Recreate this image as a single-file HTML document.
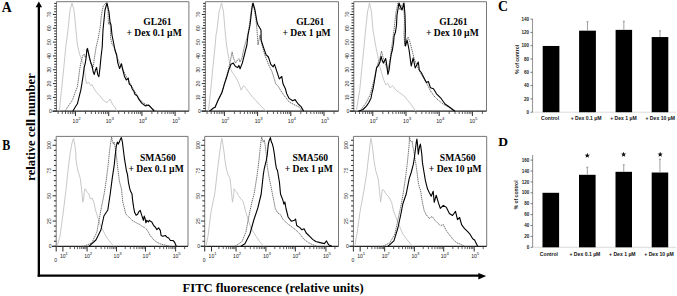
<!DOCTYPE html>
<html><head><meta charset="utf-8"><style>
html,body{margin:0;padding:0;background:#fff;}
body{width:677px;height:296px;overflow:hidden;}
svg{display:block;}
</style></head><body>
<svg width="677" height="296" viewBox="0 0 677 296">
<rect width="677" height="296" fill="#fff"/>
<path d="M56.5,111.2 V1.7 H188.9 V111.2" fill="none" stroke="#777" stroke-width="1"/>
<line x1="52.5" y1="111.2" x2="188.9" y2="111.2" stroke="#222" stroke-width="1.2"/>
<line x1="52.9" y1="111.20" x2="56.5" y2="111.20" stroke="#333" stroke-width="1.05"/>
<text x="50.50" y="113.00" font-family="'Liberation Sans', sans-serif" font-size="5.1" text-anchor="middle" fill="#222">0</text>
<line x1="54.2" y1="108.44" x2="56.5" y2="108.44" stroke="#333" stroke-width="1.05"/>
<line x1="54.2" y1="105.67" x2="56.5" y2="105.67" stroke="#333" stroke-width="1.05"/>
<line x1="54.2" y1="102.91" x2="56.5" y2="102.91" stroke="#333" stroke-width="1.05"/>
<line x1="54.2" y1="100.14" x2="56.5" y2="100.14" stroke="#333" stroke-width="1.05"/>
<line x1="52.9" y1="97.38" x2="56.5" y2="97.38" stroke="#333" stroke-width="1.05"/>
<text x="0" y="0" transform="translate(51.30,97.38) rotate(-90)" font-family="'Liberation Sans', sans-serif" font-size="5.1" text-anchor="middle" fill="#222">10</text>
<line x1="54.2" y1="94.62" x2="56.5" y2="94.62" stroke="#333" stroke-width="1.05"/>
<line x1="54.2" y1="91.85" x2="56.5" y2="91.85" stroke="#333" stroke-width="1.05"/>
<line x1="54.2" y1="89.09" x2="56.5" y2="89.09" stroke="#333" stroke-width="1.05"/>
<line x1="54.2" y1="86.32" x2="56.5" y2="86.32" stroke="#333" stroke-width="1.05"/>
<line x1="52.9" y1="83.56" x2="56.5" y2="83.56" stroke="#333" stroke-width="1.05"/>
<text x="0" y="0" transform="translate(51.30,83.56) rotate(-90)" font-family="'Liberation Sans', sans-serif" font-size="5.1" text-anchor="middle" fill="#222">20</text>
<line x1="54.2" y1="80.80" x2="56.5" y2="80.80" stroke="#333" stroke-width="1.05"/>
<line x1="54.2" y1="78.03" x2="56.5" y2="78.03" stroke="#333" stroke-width="1.05"/>
<line x1="54.2" y1="75.27" x2="56.5" y2="75.27" stroke="#333" stroke-width="1.05"/>
<line x1="54.2" y1="72.50" x2="56.5" y2="72.50" stroke="#333" stroke-width="1.05"/>
<line x1="52.9" y1="69.74" x2="56.5" y2="69.74" stroke="#333" stroke-width="1.05"/>
<text x="0" y="0" transform="translate(51.30,69.74) rotate(-90)" font-family="'Liberation Sans', sans-serif" font-size="5.1" text-anchor="middle" fill="#222">30</text>
<line x1="54.2" y1="66.98" x2="56.5" y2="66.98" stroke="#333" stroke-width="1.05"/>
<line x1="54.2" y1="64.21" x2="56.5" y2="64.21" stroke="#333" stroke-width="1.05"/>
<line x1="54.2" y1="61.45" x2="56.5" y2="61.45" stroke="#333" stroke-width="1.05"/>
<line x1="54.2" y1="58.68" x2="56.5" y2="58.68" stroke="#333" stroke-width="1.05"/>
<line x1="52.9" y1="55.92" x2="56.5" y2="55.92" stroke="#333" stroke-width="1.05"/>
<text x="0" y="0" transform="translate(51.30,55.92) rotate(-90)" font-family="'Liberation Sans', sans-serif" font-size="5.1" text-anchor="middle" fill="#222">40</text>
<line x1="54.2" y1="53.16" x2="56.5" y2="53.16" stroke="#333" stroke-width="1.05"/>
<line x1="54.2" y1="50.39" x2="56.5" y2="50.39" stroke="#333" stroke-width="1.05"/>
<line x1="54.2" y1="47.63" x2="56.5" y2="47.63" stroke="#333" stroke-width="1.05"/>
<line x1="54.2" y1="44.86" x2="56.5" y2="44.86" stroke="#333" stroke-width="1.05"/>
<line x1="52.9" y1="42.10" x2="56.5" y2="42.10" stroke="#333" stroke-width="1.05"/>
<text x="0" y="0" transform="translate(51.30,42.10) rotate(-90)" font-family="'Liberation Sans', sans-serif" font-size="5.1" text-anchor="middle" fill="#222">50</text>
<line x1="54.2" y1="39.34" x2="56.5" y2="39.34" stroke="#333" stroke-width="1.05"/>
<line x1="54.2" y1="36.57" x2="56.5" y2="36.57" stroke="#333" stroke-width="1.05"/>
<line x1="54.2" y1="33.81" x2="56.5" y2="33.81" stroke="#333" stroke-width="1.05"/>
<line x1="54.2" y1="31.04" x2="56.5" y2="31.04" stroke="#333" stroke-width="1.05"/>
<line x1="52.9" y1="28.28" x2="56.5" y2="28.28" stroke="#333" stroke-width="1.05"/>
<text x="0" y="0" transform="translate(51.30,28.28) rotate(-90)" font-family="'Liberation Sans', sans-serif" font-size="5.1" text-anchor="middle" fill="#222">60</text>
<line x1="54.2" y1="25.52" x2="56.5" y2="25.52" stroke="#333" stroke-width="1.05"/>
<line x1="54.2" y1="22.75" x2="56.5" y2="22.75" stroke="#333" stroke-width="1.05"/>
<line x1="54.2" y1="19.99" x2="56.5" y2="19.99" stroke="#333" stroke-width="1.05"/>
<line x1="54.2" y1="17.22" x2="56.5" y2="17.22" stroke="#333" stroke-width="1.05"/>
<line x1="52.9" y1="14.46" x2="56.5" y2="14.46" stroke="#333" stroke-width="1.05"/>
<text x="0" y="0" transform="translate(51.30,14.46) rotate(-90)" font-family="'Liberation Sans', sans-serif" font-size="5.1" text-anchor="middle" fill="#222">70</text>
<line x1="54.2" y1="11.70" x2="56.5" y2="11.70" stroke="#333" stroke-width="1.05"/>
<line x1="54.2" y1="8.93" x2="56.5" y2="8.93" stroke="#333" stroke-width="1.05"/>
<line x1="54.2" y1="6.17" x2="56.5" y2="6.17" stroke="#333" stroke-width="1.05"/>
<line x1="54.2" y1="3.40" x2="56.5" y2="3.40" stroke="#333" stroke-width="1.05"/>
<line x1="58.14" y1="111.2" x2="58.14" y2="114.0" stroke="#333" stroke-width="0.8"/>
<line x1="62.29" y1="111.2" x2="62.29" y2="114.0" stroke="#333" stroke-width="0.8"/>
<line x1="65.51" y1="111.2" x2="65.51" y2="114.0" stroke="#333" stroke-width="0.8"/>
<line x1="68.13" y1="111.2" x2="68.13" y2="114.0" stroke="#333" stroke-width="0.8"/>
<line x1="70.36" y1="111.2" x2="70.36" y2="114.0" stroke="#333" stroke-width="0.8"/>
<line x1="72.28" y1="111.2" x2="72.28" y2="114.0" stroke="#333" stroke-width="0.8"/>
<line x1="73.98" y1="111.2" x2="73.98" y2="114.0" stroke="#333" stroke-width="0.8"/>
<line x1="75.50" y1="111.2" x2="75.50" y2="116.0" stroke="#333" stroke-width="1.05"/>
<text x="75.40" y="122.70" font-family="'Liberation Sans', sans-serif" font-size="5.1" text-anchor="middle" fill="#222">10</text>
<text x="78.20" y="119.70" font-family="'Liberation Sans', sans-serif" font-size="4.3" fill="#222">2</text>
<line x1="85.49" y1="111.2" x2="85.49" y2="114.0" stroke="#333" stroke-width="0.8"/>
<line x1="91.34" y1="111.2" x2="91.34" y2="114.0" stroke="#333" stroke-width="0.8"/>
<line x1="95.49" y1="111.2" x2="95.49" y2="114.0" stroke="#333" stroke-width="0.8"/>
<line x1="98.71" y1="111.2" x2="98.71" y2="114.0" stroke="#333" stroke-width="0.8"/>
<line x1="101.33" y1="111.2" x2="101.33" y2="114.0" stroke="#333" stroke-width="0.8"/>
<line x1="103.56" y1="111.2" x2="103.56" y2="114.0" stroke="#333" stroke-width="0.8"/>
<line x1="105.48" y1="111.2" x2="105.48" y2="114.0" stroke="#333" stroke-width="0.8"/>
<line x1="107.18" y1="111.2" x2="107.18" y2="114.0" stroke="#333" stroke-width="0.8"/>
<line x1="108.70" y1="111.2" x2="108.70" y2="116.0" stroke="#333" stroke-width="1.05"/>
<text x="108.60" y="122.70" font-family="'Liberation Sans', sans-serif" font-size="5.1" text-anchor="middle" fill="#222">10</text>
<text x="111.40" y="119.70" font-family="'Liberation Sans', sans-serif" font-size="4.3" fill="#222">3</text>
<line x1="118.69" y1="111.2" x2="118.69" y2="114.0" stroke="#333" stroke-width="0.8"/>
<line x1="124.54" y1="111.2" x2="124.54" y2="114.0" stroke="#333" stroke-width="0.8"/>
<line x1="128.69" y1="111.2" x2="128.69" y2="114.0" stroke="#333" stroke-width="0.8"/>
<line x1="131.91" y1="111.2" x2="131.91" y2="114.0" stroke="#333" stroke-width="0.8"/>
<line x1="134.53" y1="111.2" x2="134.53" y2="114.0" stroke="#333" stroke-width="0.8"/>
<line x1="136.76" y1="111.2" x2="136.76" y2="114.0" stroke="#333" stroke-width="0.8"/>
<line x1="138.68" y1="111.2" x2="138.68" y2="114.0" stroke="#333" stroke-width="0.8"/>
<line x1="140.38" y1="111.2" x2="140.38" y2="114.0" stroke="#333" stroke-width="0.8"/>
<line x1="141.90" y1="111.2" x2="141.90" y2="116.0" stroke="#333" stroke-width="1.05"/>
<text x="141.80" y="122.70" font-family="'Liberation Sans', sans-serif" font-size="5.1" text-anchor="middle" fill="#222">10</text>
<text x="144.60" y="119.70" font-family="'Liberation Sans', sans-serif" font-size="4.3" fill="#222">4</text>
<line x1="151.89" y1="111.2" x2="151.89" y2="114.0" stroke="#333" stroke-width="0.8"/>
<line x1="157.74" y1="111.2" x2="157.74" y2="114.0" stroke="#333" stroke-width="0.8"/>
<line x1="161.89" y1="111.2" x2="161.89" y2="114.0" stroke="#333" stroke-width="0.8"/>
<line x1="165.11" y1="111.2" x2="165.11" y2="114.0" stroke="#333" stroke-width="0.8"/>
<line x1="167.73" y1="111.2" x2="167.73" y2="114.0" stroke="#333" stroke-width="0.8"/>
<line x1="169.96" y1="111.2" x2="169.96" y2="114.0" stroke="#333" stroke-width="0.8"/>
<line x1="171.88" y1="111.2" x2="171.88" y2="114.0" stroke="#333" stroke-width="0.8"/>
<line x1="173.58" y1="111.2" x2="173.58" y2="114.0" stroke="#333" stroke-width="0.8"/>
<line x1="175.10" y1="111.2" x2="175.10" y2="116.0" stroke="#333" stroke-width="1.05"/>
<text x="175.00" y="122.70" font-family="'Liberation Sans', sans-serif" font-size="5.1" text-anchor="middle" fill="#222">10</text>
<text x="177.80" y="119.70" font-family="'Liberation Sans', sans-serif" font-size="4.3" fill="#222">5</text>
<line x1="185.09" y1="111.2" x2="185.09" y2="114.0" stroke="#333" stroke-width="0.8"/>
<path d="M205.4,111.2 V1.7 H338.5 V111.2" fill="none" stroke="#777" stroke-width="1"/>
<line x1="201.4" y1="111.2" x2="338.5" y2="111.2" stroke="#222" stroke-width="1.2"/>
<line x1="201.8" y1="111.20" x2="205.4" y2="111.20" stroke="#333" stroke-width="1.05"/>
<text x="199.40" y="113.00" font-family="'Liberation Sans', sans-serif" font-size="5.1" text-anchor="middle" fill="#222">0</text>
<line x1="203.1" y1="108.44" x2="205.4" y2="108.44" stroke="#333" stroke-width="1.05"/>
<line x1="203.1" y1="105.67" x2="205.4" y2="105.67" stroke="#333" stroke-width="1.05"/>
<line x1="203.1" y1="102.91" x2="205.4" y2="102.91" stroke="#333" stroke-width="1.05"/>
<line x1="203.1" y1="100.14" x2="205.4" y2="100.14" stroke="#333" stroke-width="1.05"/>
<line x1="201.8" y1="97.38" x2="205.4" y2="97.38" stroke="#333" stroke-width="1.05"/>
<text x="0" y="0" transform="translate(200.20,97.38) rotate(-90)" font-family="'Liberation Sans', sans-serif" font-size="5.1" text-anchor="middle" fill="#222">10</text>
<line x1="203.1" y1="94.62" x2="205.4" y2="94.62" stroke="#333" stroke-width="1.05"/>
<line x1="203.1" y1="91.85" x2="205.4" y2="91.85" stroke="#333" stroke-width="1.05"/>
<line x1="203.1" y1="89.09" x2="205.4" y2="89.09" stroke="#333" stroke-width="1.05"/>
<line x1="203.1" y1="86.32" x2="205.4" y2="86.32" stroke="#333" stroke-width="1.05"/>
<line x1="201.8" y1="83.56" x2="205.4" y2="83.56" stroke="#333" stroke-width="1.05"/>
<text x="0" y="0" transform="translate(200.20,83.56) rotate(-90)" font-family="'Liberation Sans', sans-serif" font-size="5.1" text-anchor="middle" fill="#222">20</text>
<line x1="203.1" y1="80.80" x2="205.4" y2="80.80" stroke="#333" stroke-width="1.05"/>
<line x1="203.1" y1="78.03" x2="205.4" y2="78.03" stroke="#333" stroke-width="1.05"/>
<line x1="203.1" y1="75.27" x2="205.4" y2="75.27" stroke="#333" stroke-width="1.05"/>
<line x1="203.1" y1="72.50" x2="205.4" y2="72.50" stroke="#333" stroke-width="1.05"/>
<line x1="201.8" y1="69.74" x2="205.4" y2="69.74" stroke="#333" stroke-width="1.05"/>
<text x="0" y="0" transform="translate(200.20,69.74) rotate(-90)" font-family="'Liberation Sans', sans-serif" font-size="5.1" text-anchor="middle" fill="#222">30</text>
<line x1="203.1" y1="66.98" x2="205.4" y2="66.98" stroke="#333" stroke-width="1.05"/>
<line x1="203.1" y1="64.21" x2="205.4" y2="64.21" stroke="#333" stroke-width="1.05"/>
<line x1="203.1" y1="61.45" x2="205.4" y2="61.45" stroke="#333" stroke-width="1.05"/>
<line x1="203.1" y1="58.68" x2="205.4" y2="58.68" stroke="#333" stroke-width="1.05"/>
<line x1="201.8" y1="55.92" x2="205.4" y2="55.92" stroke="#333" stroke-width="1.05"/>
<text x="0" y="0" transform="translate(200.20,55.92) rotate(-90)" font-family="'Liberation Sans', sans-serif" font-size="5.1" text-anchor="middle" fill="#222">40</text>
<line x1="203.1" y1="53.16" x2="205.4" y2="53.16" stroke="#333" stroke-width="1.05"/>
<line x1="203.1" y1="50.39" x2="205.4" y2="50.39" stroke="#333" stroke-width="1.05"/>
<line x1="203.1" y1="47.63" x2="205.4" y2="47.63" stroke="#333" stroke-width="1.05"/>
<line x1="203.1" y1="44.86" x2="205.4" y2="44.86" stroke="#333" stroke-width="1.05"/>
<line x1="201.8" y1="42.10" x2="205.4" y2="42.10" stroke="#333" stroke-width="1.05"/>
<text x="0" y="0" transform="translate(200.20,42.10) rotate(-90)" font-family="'Liberation Sans', sans-serif" font-size="5.1" text-anchor="middle" fill="#222">50</text>
<line x1="203.1" y1="39.34" x2="205.4" y2="39.34" stroke="#333" stroke-width="1.05"/>
<line x1="203.1" y1="36.57" x2="205.4" y2="36.57" stroke="#333" stroke-width="1.05"/>
<line x1="203.1" y1="33.81" x2="205.4" y2="33.81" stroke="#333" stroke-width="1.05"/>
<line x1="203.1" y1="31.04" x2="205.4" y2="31.04" stroke="#333" stroke-width="1.05"/>
<line x1="201.8" y1="28.28" x2="205.4" y2="28.28" stroke="#333" stroke-width="1.05"/>
<text x="0" y="0" transform="translate(200.20,28.28) rotate(-90)" font-family="'Liberation Sans', sans-serif" font-size="5.1" text-anchor="middle" fill="#222">60</text>
<line x1="203.1" y1="25.52" x2="205.4" y2="25.52" stroke="#333" stroke-width="1.05"/>
<line x1="203.1" y1="22.75" x2="205.4" y2="22.75" stroke="#333" stroke-width="1.05"/>
<line x1="203.1" y1="19.99" x2="205.4" y2="19.99" stroke="#333" stroke-width="1.05"/>
<line x1="203.1" y1="17.22" x2="205.4" y2="17.22" stroke="#333" stroke-width="1.05"/>
<line x1="201.8" y1="14.46" x2="205.4" y2="14.46" stroke="#333" stroke-width="1.05"/>
<text x="0" y="0" transform="translate(200.20,14.46) rotate(-90)" font-family="'Liberation Sans', sans-serif" font-size="5.1" text-anchor="middle" fill="#222">70</text>
<line x1="203.1" y1="11.70" x2="205.4" y2="11.70" stroke="#333" stroke-width="1.05"/>
<line x1="203.1" y1="8.93" x2="205.4" y2="8.93" stroke="#333" stroke-width="1.05"/>
<line x1="203.1" y1="6.17" x2="205.4" y2="6.17" stroke="#333" stroke-width="1.05"/>
<line x1="203.1" y1="3.40" x2="205.4" y2="3.40" stroke="#333" stroke-width="1.05"/>
<line x1="207.04" y1="111.2" x2="207.04" y2="114.0" stroke="#333" stroke-width="0.8"/>
<line x1="211.19" y1="111.2" x2="211.19" y2="114.0" stroke="#333" stroke-width="0.8"/>
<line x1="214.41" y1="111.2" x2="214.41" y2="114.0" stroke="#333" stroke-width="0.8"/>
<line x1="217.03" y1="111.2" x2="217.03" y2="114.0" stroke="#333" stroke-width="0.8"/>
<line x1="219.26" y1="111.2" x2="219.26" y2="114.0" stroke="#333" stroke-width="0.8"/>
<line x1="221.18" y1="111.2" x2="221.18" y2="114.0" stroke="#333" stroke-width="0.8"/>
<line x1="222.88" y1="111.2" x2="222.88" y2="114.0" stroke="#333" stroke-width="0.8"/>
<line x1="224.40" y1="111.2" x2="224.40" y2="116.0" stroke="#333" stroke-width="1.05"/>
<text x="224.30" y="122.70" font-family="'Liberation Sans', sans-serif" font-size="5.1" text-anchor="middle" fill="#222">10</text>
<text x="227.10" y="119.70" font-family="'Liberation Sans', sans-serif" font-size="4.3" fill="#222">2</text>
<line x1="234.39" y1="111.2" x2="234.39" y2="114.0" stroke="#333" stroke-width="0.8"/>
<line x1="240.24" y1="111.2" x2="240.24" y2="114.0" stroke="#333" stroke-width="0.8"/>
<line x1="244.39" y1="111.2" x2="244.39" y2="114.0" stroke="#333" stroke-width="0.8"/>
<line x1="247.61" y1="111.2" x2="247.61" y2="114.0" stroke="#333" stroke-width="0.8"/>
<line x1="250.23" y1="111.2" x2="250.23" y2="114.0" stroke="#333" stroke-width="0.8"/>
<line x1="252.46" y1="111.2" x2="252.46" y2="114.0" stroke="#333" stroke-width="0.8"/>
<line x1="254.38" y1="111.2" x2="254.38" y2="114.0" stroke="#333" stroke-width="0.8"/>
<line x1="256.08" y1="111.2" x2="256.08" y2="114.0" stroke="#333" stroke-width="0.8"/>
<line x1="257.60" y1="111.2" x2="257.60" y2="116.0" stroke="#333" stroke-width="1.05"/>
<text x="257.50" y="122.70" font-family="'Liberation Sans', sans-serif" font-size="5.1" text-anchor="middle" fill="#222">10</text>
<text x="260.30" y="119.70" font-family="'Liberation Sans', sans-serif" font-size="4.3" fill="#222">3</text>
<line x1="267.59" y1="111.2" x2="267.59" y2="114.0" stroke="#333" stroke-width="0.8"/>
<line x1="273.44" y1="111.2" x2="273.44" y2="114.0" stroke="#333" stroke-width="0.8"/>
<line x1="277.59" y1="111.2" x2="277.59" y2="114.0" stroke="#333" stroke-width="0.8"/>
<line x1="280.81" y1="111.2" x2="280.81" y2="114.0" stroke="#333" stroke-width="0.8"/>
<line x1="283.43" y1="111.2" x2="283.43" y2="114.0" stroke="#333" stroke-width="0.8"/>
<line x1="285.66" y1="111.2" x2="285.66" y2="114.0" stroke="#333" stroke-width="0.8"/>
<line x1="287.58" y1="111.2" x2="287.58" y2="114.0" stroke="#333" stroke-width="0.8"/>
<line x1="289.28" y1="111.2" x2="289.28" y2="114.0" stroke="#333" stroke-width="0.8"/>
<line x1="290.80" y1="111.2" x2="290.80" y2="116.0" stroke="#333" stroke-width="1.05"/>
<text x="290.70" y="122.70" font-family="'Liberation Sans', sans-serif" font-size="5.1" text-anchor="middle" fill="#222">10</text>
<text x="293.50" y="119.70" font-family="'Liberation Sans', sans-serif" font-size="4.3" fill="#222">4</text>
<line x1="300.79" y1="111.2" x2="300.79" y2="114.0" stroke="#333" stroke-width="0.8"/>
<line x1="306.64" y1="111.2" x2="306.64" y2="114.0" stroke="#333" stroke-width="0.8"/>
<line x1="310.79" y1="111.2" x2="310.79" y2="114.0" stroke="#333" stroke-width="0.8"/>
<line x1="314.01" y1="111.2" x2="314.01" y2="114.0" stroke="#333" stroke-width="0.8"/>
<line x1="316.63" y1="111.2" x2="316.63" y2="114.0" stroke="#333" stroke-width="0.8"/>
<line x1="318.86" y1="111.2" x2="318.86" y2="114.0" stroke="#333" stroke-width="0.8"/>
<line x1="320.78" y1="111.2" x2="320.78" y2="114.0" stroke="#333" stroke-width="0.8"/>
<line x1="322.48" y1="111.2" x2="322.48" y2="114.0" stroke="#333" stroke-width="0.8"/>
<line x1="324.00" y1="111.2" x2="324.00" y2="116.0" stroke="#333" stroke-width="1.05"/>
<text x="323.90" y="122.70" font-family="'Liberation Sans', sans-serif" font-size="5.1" text-anchor="middle" fill="#222">10</text>
<text x="326.70" y="119.70" font-family="'Liberation Sans', sans-serif" font-size="4.3" fill="#222">5</text>
<line x1="333.99" y1="111.2" x2="333.99" y2="114.0" stroke="#333" stroke-width="0.8"/>
<path d="M353.8,111.2 V1.7 H486.5 V111.2" fill="none" stroke="#777" stroke-width="1"/>
<line x1="349.8" y1="111.2" x2="486.5" y2="111.2" stroke="#222" stroke-width="1.2"/>
<line x1="350.2" y1="111.20" x2="353.8" y2="111.20" stroke="#333" stroke-width="1.05"/>
<text x="347.80" y="113.00" font-family="'Liberation Sans', sans-serif" font-size="5.1" text-anchor="middle" fill="#222">0</text>
<line x1="351.5" y1="108.44" x2="353.8" y2="108.44" stroke="#333" stroke-width="1.05"/>
<line x1="351.5" y1="105.67" x2="353.8" y2="105.67" stroke="#333" stroke-width="1.05"/>
<line x1="351.5" y1="102.91" x2="353.8" y2="102.91" stroke="#333" stroke-width="1.05"/>
<line x1="351.5" y1="100.14" x2="353.8" y2="100.14" stroke="#333" stroke-width="1.05"/>
<line x1="350.2" y1="97.38" x2="353.8" y2="97.38" stroke="#333" stroke-width="1.05"/>
<text x="0" y="0" transform="translate(348.60,97.38) rotate(-90)" font-family="'Liberation Sans', sans-serif" font-size="5.1" text-anchor="middle" fill="#222">10</text>
<line x1="351.5" y1="94.62" x2="353.8" y2="94.62" stroke="#333" stroke-width="1.05"/>
<line x1="351.5" y1="91.85" x2="353.8" y2="91.85" stroke="#333" stroke-width="1.05"/>
<line x1="351.5" y1="89.09" x2="353.8" y2="89.09" stroke="#333" stroke-width="1.05"/>
<line x1="351.5" y1="86.32" x2="353.8" y2="86.32" stroke="#333" stroke-width="1.05"/>
<line x1="350.2" y1="83.56" x2="353.8" y2="83.56" stroke="#333" stroke-width="1.05"/>
<text x="0" y="0" transform="translate(348.60,83.56) rotate(-90)" font-family="'Liberation Sans', sans-serif" font-size="5.1" text-anchor="middle" fill="#222">20</text>
<line x1="351.5" y1="80.80" x2="353.8" y2="80.80" stroke="#333" stroke-width="1.05"/>
<line x1="351.5" y1="78.03" x2="353.8" y2="78.03" stroke="#333" stroke-width="1.05"/>
<line x1="351.5" y1="75.27" x2="353.8" y2="75.27" stroke="#333" stroke-width="1.05"/>
<line x1="351.5" y1="72.50" x2="353.8" y2="72.50" stroke="#333" stroke-width="1.05"/>
<line x1="350.2" y1="69.74" x2="353.8" y2="69.74" stroke="#333" stroke-width="1.05"/>
<text x="0" y="0" transform="translate(348.60,69.74) rotate(-90)" font-family="'Liberation Sans', sans-serif" font-size="5.1" text-anchor="middle" fill="#222">30</text>
<line x1="351.5" y1="66.98" x2="353.8" y2="66.98" stroke="#333" stroke-width="1.05"/>
<line x1="351.5" y1="64.21" x2="353.8" y2="64.21" stroke="#333" stroke-width="1.05"/>
<line x1="351.5" y1="61.45" x2="353.8" y2="61.45" stroke="#333" stroke-width="1.05"/>
<line x1="351.5" y1="58.68" x2="353.8" y2="58.68" stroke="#333" stroke-width="1.05"/>
<line x1="350.2" y1="55.92" x2="353.8" y2="55.92" stroke="#333" stroke-width="1.05"/>
<text x="0" y="0" transform="translate(348.60,55.92) rotate(-90)" font-family="'Liberation Sans', sans-serif" font-size="5.1" text-anchor="middle" fill="#222">40</text>
<line x1="351.5" y1="53.16" x2="353.8" y2="53.16" stroke="#333" stroke-width="1.05"/>
<line x1="351.5" y1="50.39" x2="353.8" y2="50.39" stroke="#333" stroke-width="1.05"/>
<line x1="351.5" y1="47.63" x2="353.8" y2="47.63" stroke="#333" stroke-width="1.05"/>
<line x1="351.5" y1="44.86" x2="353.8" y2="44.86" stroke="#333" stroke-width="1.05"/>
<line x1="350.2" y1="42.10" x2="353.8" y2="42.10" stroke="#333" stroke-width="1.05"/>
<text x="0" y="0" transform="translate(348.60,42.10) rotate(-90)" font-family="'Liberation Sans', sans-serif" font-size="5.1" text-anchor="middle" fill="#222">50</text>
<line x1="351.5" y1="39.34" x2="353.8" y2="39.34" stroke="#333" stroke-width="1.05"/>
<line x1="351.5" y1="36.57" x2="353.8" y2="36.57" stroke="#333" stroke-width="1.05"/>
<line x1="351.5" y1="33.81" x2="353.8" y2="33.81" stroke="#333" stroke-width="1.05"/>
<line x1="351.5" y1="31.04" x2="353.8" y2="31.04" stroke="#333" stroke-width="1.05"/>
<line x1="350.2" y1="28.28" x2="353.8" y2="28.28" stroke="#333" stroke-width="1.05"/>
<text x="0" y="0" transform="translate(348.60,28.28) rotate(-90)" font-family="'Liberation Sans', sans-serif" font-size="5.1" text-anchor="middle" fill="#222">60</text>
<line x1="351.5" y1="25.52" x2="353.8" y2="25.52" stroke="#333" stroke-width="1.05"/>
<line x1="351.5" y1="22.75" x2="353.8" y2="22.75" stroke="#333" stroke-width="1.05"/>
<line x1="351.5" y1="19.99" x2="353.8" y2="19.99" stroke="#333" stroke-width="1.05"/>
<line x1="351.5" y1="17.22" x2="353.8" y2="17.22" stroke="#333" stroke-width="1.05"/>
<line x1="350.2" y1="14.46" x2="353.8" y2="14.46" stroke="#333" stroke-width="1.05"/>
<text x="0" y="0" transform="translate(348.60,14.46) rotate(-90)" font-family="'Liberation Sans', sans-serif" font-size="5.1" text-anchor="middle" fill="#222">70</text>
<line x1="351.5" y1="11.70" x2="353.8" y2="11.70" stroke="#333" stroke-width="1.05"/>
<line x1="351.5" y1="8.93" x2="353.8" y2="8.93" stroke="#333" stroke-width="1.05"/>
<line x1="351.5" y1="6.17" x2="353.8" y2="6.17" stroke="#333" stroke-width="1.05"/>
<line x1="351.5" y1="3.40" x2="353.8" y2="3.40" stroke="#333" stroke-width="1.05"/>
<line x1="355.44" y1="111.2" x2="355.44" y2="114.0" stroke="#333" stroke-width="0.8"/>
<line x1="359.59" y1="111.2" x2="359.59" y2="114.0" stroke="#333" stroke-width="0.8"/>
<line x1="362.81" y1="111.2" x2="362.81" y2="114.0" stroke="#333" stroke-width="0.8"/>
<line x1="365.43" y1="111.2" x2="365.43" y2="114.0" stroke="#333" stroke-width="0.8"/>
<line x1="367.66" y1="111.2" x2="367.66" y2="114.0" stroke="#333" stroke-width="0.8"/>
<line x1="369.58" y1="111.2" x2="369.58" y2="114.0" stroke="#333" stroke-width="0.8"/>
<line x1="371.28" y1="111.2" x2="371.28" y2="114.0" stroke="#333" stroke-width="0.8"/>
<line x1="372.80" y1="111.2" x2="372.80" y2="116.0" stroke="#333" stroke-width="1.05"/>
<text x="372.70" y="122.70" font-family="'Liberation Sans', sans-serif" font-size="5.1" text-anchor="middle" fill="#222">10</text>
<text x="375.50" y="119.70" font-family="'Liberation Sans', sans-serif" font-size="4.3" fill="#222">2</text>
<line x1="382.79" y1="111.2" x2="382.79" y2="114.0" stroke="#333" stroke-width="0.8"/>
<line x1="388.64" y1="111.2" x2="388.64" y2="114.0" stroke="#333" stroke-width="0.8"/>
<line x1="392.79" y1="111.2" x2="392.79" y2="114.0" stroke="#333" stroke-width="0.8"/>
<line x1="396.01" y1="111.2" x2="396.01" y2="114.0" stroke="#333" stroke-width="0.8"/>
<line x1="398.63" y1="111.2" x2="398.63" y2="114.0" stroke="#333" stroke-width="0.8"/>
<line x1="400.86" y1="111.2" x2="400.86" y2="114.0" stroke="#333" stroke-width="0.8"/>
<line x1="402.78" y1="111.2" x2="402.78" y2="114.0" stroke="#333" stroke-width="0.8"/>
<line x1="404.48" y1="111.2" x2="404.48" y2="114.0" stroke="#333" stroke-width="0.8"/>
<line x1="406.00" y1="111.2" x2="406.00" y2="116.0" stroke="#333" stroke-width="1.05"/>
<text x="405.90" y="122.70" font-family="'Liberation Sans', sans-serif" font-size="5.1" text-anchor="middle" fill="#222">10</text>
<text x="408.70" y="119.70" font-family="'Liberation Sans', sans-serif" font-size="4.3" fill="#222">3</text>
<line x1="415.99" y1="111.2" x2="415.99" y2="114.0" stroke="#333" stroke-width="0.8"/>
<line x1="421.84" y1="111.2" x2="421.84" y2="114.0" stroke="#333" stroke-width="0.8"/>
<line x1="425.99" y1="111.2" x2="425.99" y2="114.0" stroke="#333" stroke-width="0.8"/>
<line x1="429.21" y1="111.2" x2="429.21" y2="114.0" stroke="#333" stroke-width="0.8"/>
<line x1="431.83" y1="111.2" x2="431.83" y2="114.0" stroke="#333" stroke-width="0.8"/>
<line x1="434.06" y1="111.2" x2="434.06" y2="114.0" stroke="#333" stroke-width="0.8"/>
<line x1="435.98" y1="111.2" x2="435.98" y2="114.0" stroke="#333" stroke-width="0.8"/>
<line x1="437.68" y1="111.2" x2="437.68" y2="114.0" stroke="#333" stroke-width="0.8"/>
<line x1="439.20" y1="111.2" x2="439.20" y2="116.0" stroke="#333" stroke-width="1.05"/>
<text x="439.10" y="122.70" font-family="'Liberation Sans', sans-serif" font-size="5.1" text-anchor="middle" fill="#222">10</text>
<text x="441.90" y="119.70" font-family="'Liberation Sans', sans-serif" font-size="4.3" fill="#222">4</text>
<line x1="449.19" y1="111.2" x2="449.19" y2="114.0" stroke="#333" stroke-width="0.8"/>
<line x1="455.04" y1="111.2" x2="455.04" y2="114.0" stroke="#333" stroke-width="0.8"/>
<line x1="459.19" y1="111.2" x2="459.19" y2="114.0" stroke="#333" stroke-width="0.8"/>
<line x1="462.41" y1="111.2" x2="462.41" y2="114.0" stroke="#333" stroke-width="0.8"/>
<line x1="465.03" y1="111.2" x2="465.03" y2="114.0" stroke="#333" stroke-width="0.8"/>
<line x1="467.26" y1="111.2" x2="467.26" y2="114.0" stroke="#333" stroke-width="0.8"/>
<line x1="469.18" y1="111.2" x2="469.18" y2="114.0" stroke="#333" stroke-width="0.8"/>
<line x1="470.88" y1="111.2" x2="470.88" y2="114.0" stroke="#333" stroke-width="0.8"/>
<line x1="472.40" y1="111.2" x2="472.40" y2="116.0" stroke="#333" stroke-width="1.05"/>
<text x="472.30" y="122.70" font-family="'Liberation Sans', sans-serif" font-size="5.1" text-anchor="middle" fill="#222">10</text>
<text x="475.10" y="119.70" font-family="'Liberation Sans', sans-serif" font-size="4.3" fill="#222">5</text>
<line x1="482.39" y1="111.2" x2="482.39" y2="114.0" stroke="#333" stroke-width="0.8"/>
<path d="M56.2,246.3 V136.4 H188.0 V246.3" fill="none" stroke="#777" stroke-width="1"/>
<line x1="52.2" y1="246.3" x2="188.0" y2="246.3" stroke="#222" stroke-width="1.2"/>
<line x1="52.6" y1="246.30" x2="56.2" y2="246.30" stroke="#333" stroke-width="1.05"/>
<text x="50.20" y="248.10" font-family="'Liberation Sans', sans-serif" font-size="5.1" text-anchor="middle" fill="#222">0</text>
<line x1="53.900000000000006" y1="241.25" x2="56.2" y2="241.25" stroke="#333" stroke-width="1.05"/>
<line x1="53.900000000000006" y1="236.20" x2="56.2" y2="236.20" stroke="#333" stroke-width="1.05"/>
<line x1="53.900000000000006" y1="231.15" x2="56.2" y2="231.15" stroke="#333" stroke-width="1.05"/>
<line x1="53.900000000000006" y1="226.10" x2="56.2" y2="226.10" stroke="#333" stroke-width="1.05"/>
<line x1="52.6" y1="221.05" x2="56.2" y2="221.05" stroke="#333" stroke-width="1.05"/>
<text x="0" y="0" transform="translate(51.00,221.05) rotate(-90)" font-family="'Liberation Sans', sans-serif" font-size="5.1" text-anchor="middle" fill="#222">25</text>
<line x1="53.900000000000006" y1="216.00" x2="56.2" y2="216.00" stroke="#333" stroke-width="1.05"/>
<line x1="53.900000000000006" y1="210.95" x2="56.2" y2="210.95" stroke="#333" stroke-width="1.05"/>
<line x1="53.900000000000006" y1="205.90" x2="56.2" y2="205.90" stroke="#333" stroke-width="1.05"/>
<line x1="53.900000000000006" y1="200.85" x2="56.2" y2="200.85" stroke="#333" stroke-width="1.05"/>
<line x1="52.6" y1="195.80" x2="56.2" y2="195.80" stroke="#333" stroke-width="1.05"/>
<text x="0" y="0" transform="translate(51.00,195.80) rotate(-90)" font-family="'Liberation Sans', sans-serif" font-size="5.1" text-anchor="middle" fill="#222">50</text>
<line x1="53.900000000000006" y1="190.75" x2="56.2" y2="190.75" stroke="#333" stroke-width="1.05"/>
<line x1="53.900000000000006" y1="185.70" x2="56.2" y2="185.70" stroke="#333" stroke-width="1.05"/>
<line x1="53.900000000000006" y1="180.65" x2="56.2" y2="180.65" stroke="#333" stroke-width="1.05"/>
<line x1="53.900000000000006" y1="175.60" x2="56.2" y2="175.60" stroke="#333" stroke-width="1.05"/>
<line x1="52.6" y1="170.55" x2="56.2" y2="170.55" stroke="#333" stroke-width="1.05"/>
<text x="0" y="0" transform="translate(51.00,170.55) rotate(-90)" font-family="'Liberation Sans', sans-serif" font-size="5.1" text-anchor="middle" fill="#222">75</text>
<line x1="53.900000000000006" y1="165.50" x2="56.2" y2="165.50" stroke="#333" stroke-width="1.05"/>
<line x1="53.900000000000006" y1="160.45" x2="56.2" y2="160.45" stroke="#333" stroke-width="1.05"/>
<line x1="53.900000000000006" y1="155.40" x2="56.2" y2="155.40" stroke="#333" stroke-width="1.05"/>
<line x1="53.900000000000006" y1="150.35" x2="56.2" y2="150.35" stroke="#333" stroke-width="1.05"/>
<line x1="52.6" y1="145.30" x2="56.2" y2="145.30" stroke="#333" stroke-width="1.05"/>
<text x="0" y="0" transform="translate(51.00,145.30) rotate(-90)" font-family="'Liberation Sans', sans-serif" font-size="5.1" text-anchor="middle" fill="#222">100</text>
<line x1="53.900000000000006" y1="140.25" x2="56.2" y2="140.25" stroke="#333" stroke-width="1.05"/>
<line x1="56.20" y1="246.3" x2="56.20" y2="251.5" stroke="#333" stroke-width="1.05"/>
<text x="55.60" y="261.50" font-family="'Liberation Sans', sans-serif" font-size="5.1" text-anchor="middle" fill="#222">0</text>
<line x1="62.90" y1="246.3" x2="62.90" y2="251.5" stroke="#333" stroke-width="1.05"/>
<text x="62.80" y="257.80" font-family="'Liberation Sans', sans-serif" font-size="5.1" text-anchor="middle" fill="#222">10</text>
<text x="65.60" y="254.80" font-family="'Liberation Sans', sans-serif" font-size="4.3" fill="#222">1</text>
<line x1="70.18" y1="246.3" x2="70.18" y2="249.10000000000002" stroke="#333" stroke-width="0.8"/>
<line x1="74.44" y1="246.3" x2="74.44" y2="249.10000000000002" stroke="#333" stroke-width="0.8"/>
<line x1="77.46" y1="246.3" x2="77.46" y2="249.10000000000002" stroke="#333" stroke-width="0.8"/>
<line x1="79.81" y1="246.3" x2="79.81" y2="249.10000000000002" stroke="#333" stroke-width="0.8"/>
<line x1="81.73" y1="246.3" x2="81.73" y2="249.10000000000002" stroke="#333" stroke-width="0.8"/>
<line x1="83.35" y1="246.3" x2="83.35" y2="249.10000000000002" stroke="#333" stroke-width="0.8"/>
<line x1="84.75" y1="246.3" x2="84.75" y2="249.10000000000002" stroke="#333" stroke-width="0.8"/>
<line x1="85.99" y1="246.3" x2="85.99" y2="249.10000000000002" stroke="#333" stroke-width="0.8"/>
<line x1="87.09" y1="246.3" x2="87.09" y2="251.5" stroke="#333" stroke-width="1.05"/>
<text x="86.99" y="257.80" font-family="'Liberation Sans', sans-serif" font-size="5.1" text-anchor="middle" fill="#222">10</text>
<text x="89.79" y="254.80" font-family="'Liberation Sans', sans-serif" font-size="4.3" fill="#222">2</text>
<line x1="95.95" y1="246.3" x2="95.95" y2="249.10000000000002" stroke="#333" stroke-width="0.8"/>
<line x1="101.12" y1="246.3" x2="101.12" y2="249.10000000000002" stroke="#333" stroke-width="0.8"/>
<line x1="104.80" y1="246.3" x2="104.80" y2="249.10000000000002" stroke="#333" stroke-width="0.8"/>
<line x1="107.65" y1="246.3" x2="107.65" y2="249.10000000000002" stroke="#333" stroke-width="0.8"/>
<line x1="109.98" y1="246.3" x2="109.98" y2="249.10000000000002" stroke="#333" stroke-width="0.8"/>
<line x1="111.94" y1="246.3" x2="111.94" y2="249.10000000000002" stroke="#333" stroke-width="0.8"/>
<line x1="113.65" y1="246.3" x2="113.65" y2="249.10000000000002" stroke="#333" stroke-width="0.8"/>
<line x1="115.15" y1="246.3" x2="115.15" y2="249.10000000000002" stroke="#333" stroke-width="0.8"/>
<line x1="116.50" y1="246.3" x2="116.50" y2="251.5" stroke="#333" stroke-width="1.05"/>
<text x="116.40" y="257.80" font-family="'Liberation Sans', sans-serif" font-size="5.1" text-anchor="middle" fill="#222">10</text>
<text x="119.20" y="254.80" font-family="'Liberation Sans', sans-serif" font-size="4.3" fill="#222">3</text>
<line x1="125.23" y1="246.3" x2="125.23" y2="249.10000000000002" stroke="#333" stroke-width="0.8"/>
<line x1="130.33" y1="246.3" x2="130.33" y2="249.10000000000002" stroke="#333" stroke-width="0.8"/>
<line x1="133.96" y1="246.3" x2="133.96" y2="249.10000000000002" stroke="#333" stroke-width="0.8"/>
<line x1="136.77" y1="246.3" x2="136.77" y2="249.10000000000002" stroke="#333" stroke-width="0.8"/>
<line x1="139.06" y1="246.3" x2="139.06" y2="249.10000000000002" stroke="#333" stroke-width="0.8"/>
<line x1="141.00" y1="246.3" x2="141.00" y2="249.10000000000002" stroke="#333" stroke-width="0.8"/>
<line x1="142.68" y1="246.3" x2="142.68" y2="249.10000000000002" stroke="#333" stroke-width="0.8"/>
<line x1="144.17" y1="246.3" x2="144.17" y2="249.10000000000002" stroke="#333" stroke-width="0.8"/>
<line x1="145.49" y1="246.3" x2="145.49" y2="251.5" stroke="#333" stroke-width="1.05"/>
<text x="145.39" y="257.80" font-family="'Liberation Sans', sans-serif" font-size="5.1" text-anchor="middle" fill="#222">10</text>
<text x="148.19" y="254.80" font-family="'Liberation Sans', sans-serif" font-size="4.3" fill="#222">4</text>
<line x1="154.56" y1="246.3" x2="154.56" y2="249.10000000000002" stroke="#333" stroke-width="0.8"/>
<line x1="159.86" y1="246.3" x2="159.86" y2="249.10000000000002" stroke="#333" stroke-width="0.8"/>
<line x1="163.63" y1="246.3" x2="163.63" y2="249.10000000000002" stroke="#333" stroke-width="0.8"/>
<line x1="166.54" y1="246.3" x2="166.54" y2="249.10000000000002" stroke="#333" stroke-width="0.8"/>
<line x1="168.93" y1="246.3" x2="168.93" y2="249.10000000000002" stroke="#333" stroke-width="0.8"/>
<line x1="170.95" y1="246.3" x2="170.95" y2="249.10000000000002" stroke="#333" stroke-width="0.8"/>
<line x1="172.69" y1="246.3" x2="172.69" y2="249.10000000000002" stroke="#333" stroke-width="0.8"/>
<line x1="174.23" y1="246.3" x2="174.23" y2="249.10000000000002" stroke="#333" stroke-width="0.8"/>
<line x1="175.61" y1="246.3" x2="175.61" y2="251.5" stroke="#333" stroke-width="1.05"/>
<text x="175.51" y="257.80" font-family="'Liberation Sans', sans-serif" font-size="5.1" text-anchor="middle" fill="#222">10</text>
<text x="178.31" y="254.80" font-family="'Liberation Sans', sans-serif" font-size="4.3" fill="#222">5</text>
<line x1="184.64" y1="246.3" x2="184.64" y2="249.10000000000002" stroke="#333" stroke-width="0.8"/>
<path d="M204.7,246.3 V136.4 H338.5 V246.3" fill="none" stroke="#777" stroke-width="1"/>
<line x1="200.7" y1="246.3" x2="338.5" y2="246.3" stroke="#222" stroke-width="1.2"/>
<line x1="201.1" y1="246.30" x2="204.7" y2="246.30" stroke="#333" stroke-width="1.05"/>
<text x="198.70" y="248.10" font-family="'Liberation Sans', sans-serif" font-size="5.1" text-anchor="middle" fill="#222">0</text>
<line x1="202.39999999999998" y1="241.25" x2="204.7" y2="241.25" stroke="#333" stroke-width="1.05"/>
<line x1="202.39999999999998" y1="236.20" x2="204.7" y2="236.20" stroke="#333" stroke-width="1.05"/>
<line x1="202.39999999999998" y1="231.15" x2="204.7" y2="231.15" stroke="#333" stroke-width="1.05"/>
<line x1="202.39999999999998" y1="226.10" x2="204.7" y2="226.10" stroke="#333" stroke-width="1.05"/>
<line x1="201.1" y1="221.05" x2="204.7" y2="221.05" stroke="#333" stroke-width="1.05"/>
<text x="0" y="0" transform="translate(199.50,221.05) rotate(-90)" font-family="'Liberation Sans', sans-serif" font-size="5.1" text-anchor="middle" fill="#222">25</text>
<line x1="202.39999999999998" y1="216.00" x2="204.7" y2="216.00" stroke="#333" stroke-width="1.05"/>
<line x1="202.39999999999998" y1="210.95" x2="204.7" y2="210.95" stroke="#333" stroke-width="1.05"/>
<line x1="202.39999999999998" y1="205.90" x2="204.7" y2="205.90" stroke="#333" stroke-width="1.05"/>
<line x1="202.39999999999998" y1="200.85" x2="204.7" y2="200.85" stroke="#333" stroke-width="1.05"/>
<line x1="201.1" y1="195.80" x2="204.7" y2="195.80" stroke="#333" stroke-width="1.05"/>
<text x="0" y="0" transform="translate(199.50,195.80) rotate(-90)" font-family="'Liberation Sans', sans-serif" font-size="5.1" text-anchor="middle" fill="#222">50</text>
<line x1="202.39999999999998" y1="190.75" x2="204.7" y2="190.75" stroke="#333" stroke-width="1.05"/>
<line x1="202.39999999999998" y1="185.70" x2="204.7" y2="185.70" stroke="#333" stroke-width="1.05"/>
<line x1="202.39999999999998" y1="180.65" x2="204.7" y2="180.65" stroke="#333" stroke-width="1.05"/>
<line x1="202.39999999999998" y1="175.60" x2="204.7" y2="175.60" stroke="#333" stroke-width="1.05"/>
<line x1="201.1" y1="170.55" x2="204.7" y2="170.55" stroke="#333" stroke-width="1.05"/>
<text x="0" y="0" transform="translate(199.50,170.55) rotate(-90)" font-family="'Liberation Sans', sans-serif" font-size="5.1" text-anchor="middle" fill="#222">75</text>
<line x1="202.39999999999998" y1="165.50" x2="204.7" y2="165.50" stroke="#333" stroke-width="1.05"/>
<line x1="202.39999999999998" y1="160.45" x2="204.7" y2="160.45" stroke="#333" stroke-width="1.05"/>
<line x1="202.39999999999998" y1="155.40" x2="204.7" y2="155.40" stroke="#333" stroke-width="1.05"/>
<line x1="202.39999999999998" y1="150.35" x2="204.7" y2="150.35" stroke="#333" stroke-width="1.05"/>
<line x1="201.1" y1="145.30" x2="204.7" y2="145.30" stroke="#333" stroke-width="1.05"/>
<text x="0" y="0" transform="translate(199.50,145.30) rotate(-90)" font-family="'Liberation Sans', sans-serif" font-size="5.1" text-anchor="middle" fill="#222">100</text>
<line x1="202.39999999999998" y1="140.25" x2="204.7" y2="140.25" stroke="#333" stroke-width="1.05"/>
<line x1="204.70" y1="246.3" x2="204.70" y2="251.5" stroke="#333" stroke-width="1.05"/>
<text x="204.10" y="261.50" font-family="'Liberation Sans', sans-serif" font-size="5.1" text-anchor="middle" fill="#222">0</text>
<line x1="211.50" y1="246.3" x2="211.50" y2="251.5" stroke="#333" stroke-width="1.05"/>
<text x="211.40" y="257.80" font-family="'Liberation Sans', sans-serif" font-size="5.1" text-anchor="middle" fill="#222">10</text>
<text x="214.20" y="254.80" font-family="'Liberation Sans', sans-serif" font-size="4.3" fill="#222">1</text>
<line x1="218.89" y1="246.3" x2="218.89" y2="249.10000000000002" stroke="#333" stroke-width="0.8"/>
<line x1="223.22" y1="246.3" x2="223.22" y2="249.10000000000002" stroke="#333" stroke-width="0.8"/>
<line x1="226.29" y1="246.3" x2="226.29" y2="249.10000000000002" stroke="#333" stroke-width="0.8"/>
<line x1="228.67" y1="246.3" x2="228.67" y2="249.10000000000002" stroke="#333" stroke-width="0.8"/>
<line x1="230.61" y1="246.3" x2="230.61" y2="249.10000000000002" stroke="#333" stroke-width="0.8"/>
<line x1="232.26" y1="246.3" x2="232.26" y2="249.10000000000002" stroke="#333" stroke-width="0.8"/>
<line x1="233.68" y1="246.3" x2="233.68" y2="249.10000000000002" stroke="#333" stroke-width="0.8"/>
<line x1="234.94" y1="246.3" x2="234.94" y2="249.10000000000002" stroke="#333" stroke-width="0.8"/>
<line x1="236.06" y1="246.3" x2="236.06" y2="251.5" stroke="#333" stroke-width="1.05"/>
<text x="235.96" y="257.80" font-family="'Liberation Sans', sans-serif" font-size="5.1" text-anchor="middle" fill="#222">10</text>
<text x="238.76" y="254.80" font-family="'Liberation Sans', sans-serif" font-size="4.3" fill="#222">2</text>
<line x1="245.05" y1="246.3" x2="245.05" y2="249.10000000000002" stroke="#333" stroke-width="0.8"/>
<line x1="250.31" y1="246.3" x2="250.31" y2="249.10000000000002" stroke="#333" stroke-width="0.8"/>
<line x1="254.03" y1="246.3" x2="254.03" y2="249.10000000000002" stroke="#333" stroke-width="0.8"/>
<line x1="256.93" y1="246.3" x2="256.93" y2="249.10000000000002" stroke="#333" stroke-width="0.8"/>
<line x1="259.29" y1="246.3" x2="259.29" y2="249.10000000000002" stroke="#333" stroke-width="0.8"/>
<line x1="261.29" y1="246.3" x2="261.29" y2="249.10000000000002" stroke="#333" stroke-width="0.8"/>
<line x1="263.02" y1="246.3" x2="263.02" y2="249.10000000000002" stroke="#333" stroke-width="0.8"/>
<line x1="264.55" y1="246.3" x2="264.55" y2="249.10000000000002" stroke="#333" stroke-width="0.8"/>
<line x1="265.91" y1="246.3" x2="265.91" y2="251.5" stroke="#333" stroke-width="1.05"/>
<text x="265.81" y="257.80" font-family="'Liberation Sans', sans-serif" font-size="5.1" text-anchor="middle" fill="#222">10</text>
<text x="268.61" y="254.80" font-family="'Liberation Sans', sans-serif" font-size="4.3" fill="#222">3</text>
<line x1="274.77" y1="246.3" x2="274.77" y2="249.10000000000002" stroke="#333" stroke-width="0.8"/>
<line x1="279.96" y1="246.3" x2="279.96" y2="249.10000000000002" stroke="#333" stroke-width="0.8"/>
<line x1="283.64" y1="246.3" x2="283.64" y2="249.10000000000002" stroke="#333" stroke-width="0.8"/>
<line x1="286.49" y1="246.3" x2="286.49" y2="249.10000000000002" stroke="#333" stroke-width="0.8"/>
<line x1="288.82" y1="246.3" x2="288.82" y2="249.10000000000002" stroke="#333" stroke-width="0.8"/>
<line x1="290.79" y1="246.3" x2="290.79" y2="249.10000000000002" stroke="#333" stroke-width="0.8"/>
<line x1="292.50" y1="246.3" x2="292.50" y2="249.10000000000002" stroke="#333" stroke-width="0.8"/>
<line x1="294.00" y1="246.3" x2="294.00" y2="249.10000000000002" stroke="#333" stroke-width="0.8"/>
<line x1="295.35" y1="246.3" x2="295.35" y2="251.5" stroke="#333" stroke-width="1.05"/>
<text x="295.25" y="257.80" font-family="'Liberation Sans', sans-serif" font-size="5.1" text-anchor="middle" fill="#222">10</text>
<text x="298.05" y="254.80" font-family="'Liberation Sans', sans-serif" font-size="4.3" fill="#222">4</text>
<line x1="304.55" y1="246.3" x2="304.55" y2="249.10000000000002" stroke="#333" stroke-width="0.8"/>
<line x1="309.94" y1="246.3" x2="309.94" y2="249.10000000000002" stroke="#333" stroke-width="0.8"/>
<line x1="313.76" y1="246.3" x2="313.76" y2="249.10000000000002" stroke="#333" stroke-width="0.8"/>
<line x1="316.72" y1="246.3" x2="316.72" y2="249.10000000000002" stroke="#333" stroke-width="0.8"/>
<line x1="319.14" y1="246.3" x2="319.14" y2="249.10000000000002" stroke="#333" stroke-width="0.8"/>
<line x1="321.19" y1="246.3" x2="321.19" y2="249.10000000000002" stroke="#333" stroke-width="0.8"/>
<line x1="322.96" y1="246.3" x2="322.96" y2="249.10000000000002" stroke="#333" stroke-width="0.8"/>
<line x1="324.52" y1="246.3" x2="324.52" y2="249.10000000000002" stroke="#333" stroke-width="0.8"/>
<line x1="325.92" y1="246.3" x2="325.92" y2="251.5" stroke="#333" stroke-width="1.05"/>
<text x="325.82" y="257.80" font-family="'Liberation Sans', sans-serif" font-size="5.1" text-anchor="middle" fill="#222">10</text>
<text x="328.62" y="254.80" font-family="'Liberation Sans', sans-serif" font-size="4.3" fill="#222">5</text>
<line x1="334.95" y1="246.3" x2="334.95" y2="249.10000000000002" stroke="#333" stroke-width="0.8"/>
<path d="M353.4,246.3 V136.4 H486.7 V246.3" fill="none" stroke="#777" stroke-width="1"/>
<line x1="349.4" y1="246.3" x2="486.7" y2="246.3" stroke="#222" stroke-width="1.2"/>
<line x1="349.79999999999995" y1="246.30" x2="353.4" y2="246.30" stroke="#333" stroke-width="1.05"/>
<text x="347.40" y="248.10" font-family="'Liberation Sans', sans-serif" font-size="5.1" text-anchor="middle" fill="#222">0</text>
<line x1="351.09999999999997" y1="241.25" x2="353.4" y2="241.25" stroke="#333" stroke-width="1.05"/>
<line x1="351.09999999999997" y1="236.20" x2="353.4" y2="236.20" stroke="#333" stroke-width="1.05"/>
<line x1="351.09999999999997" y1="231.15" x2="353.4" y2="231.15" stroke="#333" stroke-width="1.05"/>
<line x1="351.09999999999997" y1="226.10" x2="353.4" y2="226.10" stroke="#333" stroke-width="1.05"/>
<line x1="349.79999999999995" y1="221.05" x2="353.4" y2="221.05" stroke="#333" stroke-width="1.05"/>
<text x="0" y="0" transform="translate(348.20,221.05) rotate(-90)" font-family="'Liberation Sans', sans-serif" font-size="5.1" text-anchor="middle" fill="#222">25</text>
<line x1="351.09999999999997" y1="216.00" x2="353.4" y2="216.00" stroke="#333" stroke-width="1.05"/>
<line x1="351.09999999999997" y1="210.95" x2="353.4" y2="210.95" stroke="#333" stroke-width="1.05"/>
<line x1="351.09999999999997" y1="205.90" x2="353.4" y2="205.90" stroke="#333" stroke-width="1.05"/>
<line x1="351.09999999999997" y1="200.85" x2="353.4" y2="200.85" stroke="#333" stroke-width="1.05"/>
<line x1="349.79999999999995" y1="195.80" x2="353.4" y2="195.80" stroke="#333" stroke-width="1.05"/>
<text x="0" y="0" transform="translate(348.20,195.80) rotate(-90)" font-family="'Liberation Sans', sans-serif" font-size="5.1" text-anchor="middle" fill="#222">50</text>
<line x1="351.09999999999997" y1="190.75" x2="353.4" y2="190.75" stroke="#333" stroke-width="1.05"/>
<line x1="351.09999999999997" y1="185.70" x2="353.4" y2="185.70" stroke="#333" stroke-width="1.05"/>
<line x1="351.09999999999997" y1="180.65" x2="353.4" y2="180.65" stroke="#333" stroke-width="1.05"/>
<line x1="351.09999999999997" y1="175.60" x2="353.4" y2="175.60" stroke="#333" stroke-width="1.05"/>
<line x1="349.79999999999995" y1="170.55" x2="353.4" y2="170.55" stroke="#333" stroke-width="1.05"/>
<text x="0" y="0" transform="translate(348.20,170.55) rotate(-90)" font-family="'Liberation Sans', sans-serif" font-size="5.1" text-anchor="middle" fill="#222">75</text>
<line x1="351.09999999999997" y1="165.50" x2="353.4" y2="165.50" stroke="#333" stroke-width="1.05"/>
<line x1="351.09999999999997" y1="160.45" x2="353.4" y2="160.45" stroke="#333" stroke-width="1.05"/>
<line x1="351.09999999999997" y1="155.40" x2="353.4" y2="155.40" stroke="#333" stroke-width="1.05"/>
<line x1="351.09999999999997" y1="150.35" x2="353.4" y2="150.35" stroke="#333" stroke-width="1.05"/>
<line x1="349.79999999999995" y1="145.30" x2="353.4" y2="145.30" stroke="#333" stroke-width="1.05"/>
<text x="0" y="0" transform="translate(348.20,145.30) rotate(-90)" font-family="'Liberation Sans', sans-serif" font-size="5.1" text-anchor="middle" fill="#222">100</text>
<line x1="351.09999999999997" y1="140.25" x2="353.4" y2="140.25" stroke="#333" stroke-width="1.05"/>
<line x1="353.40" y1="246.3" x2="353.40" y2="251.5" stroke="#333" stroke-width="1.05"/>
<text x="352.80" y="261.50" font-family="'Liberation Sans', sans-serif" font-size="5.1" text-anchor="middle" fill="#222">0</text>
<line x1="360.17" y1="246.3" x2="360.17" y2="251.5" stroke="#333" stroke-width="1.05"/>
<text x="360.07" y="257.80" font-family="'Liberation Sans', sans-serif" font-size="5.1" text-anchor="middle" fill="#222">10</text>
<text x="362.87" y="254.80" font-family="'Liberation Sans', sans-serif" font-size="4.3" fill="#222">1</text>
<line x1="367.54" y1="246.3" x2="367.54" y2="249.10000000000002" stroke="#333" stroke-width="0.8"/>
<line x1="371.85" y1="246.3" x2="371.85" y2="249.10000000000002" stroke="#333" stroke-width="0.8"/>
<line x1="374.91" y1="246.3" x2="374.91" y2="249.10000000000002" stroke="#333" stroke-width="0.8"/>
<line x1="377.28" y1="246.3" x2="377.28" y2="249.10000000000002" stroke="#333" stroke-width="0.8"/>
<line x1="379.22" y1="246.3" x2="379.22" y2="249.10000000000002" stroke="#333" stroke-width="0.8"/>
<line x1="380.85" y1="246.3" x2="380.85" y2="249.10000000000002" stroke="#333" stroke-width="0.8"/>
<line x1="382.27" y1="246.3" x2="382.27" y2="249.10000000000002" stroke="#333" stroke-width="0.8"/>
<line x1="383.53" y1="246.3" x2="383.53" y2="249.10000000000002" stroke="#333" stroke-width="0.8"/>
<line x1="384.65" y1="246.3" x2="384.65" y2="251.5" stroke="#333" stroke-width="1.05"/>
<text x="384.55" y="257.80" font-family="'Liberation Sans', sans-serif" font-size="5.1" text-anchor="middle" fill="#222">10</text>
<text x="387.35" y="254.80" font-family="'Liberation Sans', sans-serif" font-size="4.3" fill="#222">2</text>
<line x1="393.60" y1="246.3" x2="393.60" y2="249.10000000000002" stroke="#333" stroke-width="0.8"/>
<line x1="398.83" y1="246.3" x2="398.83" y2="249.10000000000002" stroke="#333" stroke-width="0.8"/>
<line x1="402.55" y1="246.3" x2="402.55" y2="249.10000000000002" stroke="#333" stroke-width="0.8"/>
<line x1="405.43" y1="246.3" x2="405.43" y2="249.10000000000002" stroke="#333" stroke-width="0.8"/>
<line x1="407.79" y1="246.3" x2="407.79" y2="249.10000000000002" stroke="#333" stroke-width="0.8"/>
<line x1="409.78" y1="246.3" x2="409.78" y2="249.10000000000002" stroke="#333" stroke-width="0.8"/>
<line x1="411.50" y1="246.3" x2="411.50" y2="249.10000000000002" stroke="#333" stroke-width="0.8"/>
<line x1="413.02" y1="246.3" x2="413.02" y2="249.10000000000002" stroke="#333" stroke-width="0.8"/>
<line x1="414.38" y1="246.3" x2="414.38" y2="251.5" stroke="#333" stroke-width="1.05"/>
<text x="414.28" y="257.80" font-family="'Liberation Sans', sans-serif" font-size="5.1" text-anchor="middle" fill="#222">10</text>
<text x="417.08" y="254.80" font-family="'Liberation Sans', sans-serif" font-size="4.3" fill="#222">3</text>
<line x1="423.21" y1="246.3" x2="423.21" y2="249.10000000000002" stroke="#333" stroke-width="0.8"/>
<line x1="428.38" y1="246.3" x2="428.38" y2="249.10000000000002" stroke="#333" stroke-width="0.8"/>
<line x1="432.04" y1="246.3" x2="432.04" y2="249.10000000000002" stroke="#333" stroke-width="0.8"/>
<line x1="434.88" y1="246.3" x2="434.88" y2="249.10000000000002" stroke="#333" stroke-width="0.8"/>
<line x1="437.20" y1="246.3" x2="437.20" y2="249.10000000000002" stroke="#333" stroke-width="0.8"/>
<line x1="439.17" y1="246.3" x2="439.17" y2="249.10000000000002" stroke="#333" stroke-width="0.8"/>
<line x1="440.87" y1="246.3" x2="440.87" y2="249.10000000000002" stroke="#333" stroke-width="0.8"/>
<line x1="442.37" y1="246.3" x2="442.37" y2="249.10000000000002" stroke="#333" stroke-width="0.8"/>
<line x1="443.71" y1="246.3" x2="443.71" y2="251.5" stroke="#333" stroke-width="1.05"/>
<text x="443.61" y="257.80" font-family="'Liberation Sans', sans-serif" font-size="5.1" text-anchor="middle" fill="#222">10</text>
<text x="446.41" y="254.80" font-family="'Liberation Sans', sans-serif" font-size="4.3" fill="#222">4</text>
<line x1="452.88" y1="246.3" x2="452.88" y2="249.10000000000002" stroke="#333" stroke-width="0.8"/>
<line x1="458.24" y1="246.3" x2="458.24" y2="249.10000000000002" stroke="#333" stroke-width="0.8"/>
<line x1="462.05" y1="246.3" x2="462.05" y2="249.10000000000002" stroke="#333" stroke-width="0.8"/>
<line x1="465.00" y1="246.3" x2="465.00" y2="249.10000000000002" stroke="#333" stroke-width="0.8"/>
<line x1="467.41" y1="246.3" x2="467.41" y2="249.10000000000002" stroke="#333" stroke-width="0.8"/>
<line x1="469.45" y1="246.3" x2="469.45" y2="249.10000000000002" stroke="#333" stroke-width="0.8"/>
<line x1="471.22" y1="246.3" x2="471.22" y2="249.10000000000002" stroke="#333" stroke-width="0.8"/>
<line x1="472.78" y1="246.3" x2="472.78" y2="249.10000000000002" stroke="#333" stroke-width="0.8"/>
<line x1="474.17" y1="246.3" x2="474.17" y2="251.5" stroke="#333" stroke-width="1.05"/>
<text x="474.07" y="257.80" font-family="'Liberation Sans', sans-serif" font-size="5.1" text-anchor="middle" fill="#222">10</text>
<text x="476.87" y="254.80" font-family="'Liberation Sans', sans-serif" font-size="4.3" fill="#222">5</text>
<line x1="483.20" y1="246.3" x2="483.20" y2="249.10000000000002" stroke="#333" stroke-width="0.8"/>
<path d="M59.3,111.2 L61.5,90.2 L63.8,67.6 L66.0,45.0 L68.0,30.0 L70.0,10.0 L72.0,3.0 L74.0,10.0 L76.0,30.0 L77.4,45.0 L79.6,54.0 L81.9,60.8 L84.1,65.4 L85.3,76.7 L86.4,83.5 L88.7,82.3 L90.9,85.7 L92.1,84.6 L94.3,89.1 L96.6,92.5 L100.0,95.9 L103.4,100.4 L107.0,102.7 L110.0,99.0 L112.9,105.0 L114.8,106.9 L116.7,111.2" fill="none" stroke="#c2c2c2" stroke-width="0.9" stroke-linejoin="round"/>
<path d="M64.9,111.2 L68.3,106.1 L70.6,102.7 L72.8,99.3 L75.1,92.5 L77.4,86.9 L78.5,78.9 L79.6,69.9 L80.8,63.1 L81.9,58.6 L83.0,55.2 L84.1,54.0 L85.3,57.4 L86.4,55.0 L87.3,49.0 L88.5,53.0 L89.1,56.8 L90.5,62.0 L92.0,68.0 L93.5,66.0 L94.2,58.8 L96.2,46.7 L98.2,38.5 L100.3,26.4 L101.3,16.2 L102.3,10.1 L103.3,6.1 L104.7,4.1 L106.3,3.0 L107.4,4.1 L108.0,12.2 L108.4,24.3 L109.4,22.3 L110.4,26.4 L110.6,38.0 L112.0,44.0 L114.0,47.0 L117.0,57.0 L120.0,64.0 L123.0,70.0 L127.0,78.0 L131.0,85.0 L135.0,92.0 L140.0,100.0 L145.0,104.0 L150.0,106.0 L153.0,109.0 L156.0,111.2" fill="none" stroke="#555" stroke-width="0.85" stroke-linejoin="round" stroke-dasharray="1.4 0.7"/>
<path d="M72.8,111.2 L75.1,107.2 L77.4,103.8 L78.5,99.3 L79.6,94.8 L80.8,90.2 L81.9,83.5 L83.0,76.7 L84.1,67.6 L85.3,63.1 L86.0,58.6 L86.9,49.5 L87.5,48.4 L88.7,54.0 L89.8,58.6 L90.9,63.1 L92.1,65.4 L93.2,72.1 L94.3,74.4 L95.5,69.9 L96.6,67.6 L97.7,74.4 L98.9,76.7 L100.0,67.6 L101.1,56.3 L102.2,47.3 L103.0,30.0 L105.0,10.0 L107.0,3.0 L109.0,12.0 L110.0,22.0 L111.0,25.0 L112.0,35.0 L113.0,40.0 L115.0,50.0 L116.7,55.0 L117.7,62.7 L119.6,68.5 L121.5,63.7 L122.5,68.5 L124.4,76.2 L126.3,80.0 L128.3,78.1 L129.2,83.8 L131.2,85.8 L132.1,88.7 L134.0,91.5 L135.0,94.4 L136.9,95.4 L138.8,99.2 L141.7,103.1 L145.6,106.0 L148.5,105.0 L151.3,107.9 L154.2,111.2" fill="none" stroke="#000" stroke-width="1.1" stroke-linejoin="round"/>
<path d="M208.4,111.2 L210.7,90.2 L212.9,67.6 L215.2,45.0 L216.0,35.0 L217.0,30.0 L219.0,12.0 L221.5,3.0 L223.5,12.0 L225.0,30.0 L226.5,45.0 L228.8,58.6 L231.0,69.9 L232.1,72.1 L235.5,76.7 L238.9,83.5 L241.2,90.2 L243.5,85.7 L245.7,88.0 L249.1,92.5 L252.5,97.0 L255.0,99.3 L259.0,104.0 L266.0,111.2" fill="none" stroke="#c2c2c2" stroke-width="0.9" stroke-linejoin="round"/>
<path d="M211.0,111.2 L214.0,108.0 L217.0,103.0 L220.0,96.0 L223.0,89.0 L225.5,80.0 L228.0,71.0 L230.0,63.0 L232.1,51.8 L233.5,58.0 L235.5,63.0 L237.5,60.0 L238.9,58.6 L240.0,62.0 L242.0,58.0 L244.0,48.0 L247.0,38.0 L249.0,28.0 L251.0,12.0 L252.5,3.0 L254.0,8.0 L256.0,20.0 L257.0,30.0 L258.0,45.0 L260.0,35.0 L262.0,45.0 L264.7,54.6 L268.4,64.3 L272.0,71.6 L275.7,83.8 L278.1,86.2 L281.8,92.3 L285.4,97.2 L289.1,102.0 L293.9,104.5 L298.8,106.9 L302.4,111.2" fill="none" stroke="#555" stroke-width="0.85" stroke-linejoin="round" stroke-dasharray="1.4 0.7"/>
<path d="M209.5,111.2 L212.9,108.3 L215.2,107.2 L217.4,101.6 L219.7,97.0 L222.0,92.5 L224.2,84.6 L226.5,77.8 L228.8,69.9 L231.0,64.2 L233.3,63.1 L235.5,66.5 L237.8,67.6 L238.9,65.4 L240.1,68.8 L242.3,63.1 L244.6,54.0 L245.7,49.5 L246.9,45.0 L248.0,35.0 L250.0,25.0 L252.0,8.0 L253.0,3.0 L255.0,10.0 L257.0,22.0 L258.0,25.0 L261.0,30.0 L261.1,40.0 L263.5,47.3 L266.0,54.6 L268.4,57.0 L270.8,64.3 L273.2,66.8 L274.5,64.3 L276.9,71.6 L279.3,78.9 L281.8,76.5 L283.0,83.8 L285.4,88.7 L286.6,93.5 L289.1,98.4 L292.7,100.8 L295.1,99.6 L297.6,103.3 L301.2,106.9 L303.7,111.2" fill="none" stroke="#000" stroke-width="1.1" stroke-linejoin="round"/>
<path d="M356.3,111.2 L359.7,90.2 L361.9,67.6 L364.2,45.0 L365.6,30.0 L367.5,12.0 L369.5,3.0 L371.5,12.0 L373.0,30.0 L375.5,45.0 L377.8,56.3 L380.0,67.6 L381.1,71.0 L383.4,78.9 L385.7,84.6 L387.9,83.5 L390.2,88.0 L392.5,85.7 L395.9,90.2 L399.2,92.5 L404.0,95.9 L410.0,103.0 L416.0,111.2" fill="none" stroke="#c2c2c2" stroke-width="0.9" stroke-linejoin="round"/>
<path d="M360.0,111.2 L366.0,103.0 L370.0,95.0 L374.0,80.0 L377.0,66.0 L380.0,58.0 L381.5,51.0 L383.0,57.0 L386.0,66.0 L388.0,70.0 L390.0,60.0 L392.0,45.0 L394.0,30.0 L396.0,12.0 L398.0,3.0 L400.0,10.0 L402.0,5.0 L403.5,3.0 L404.5,20.0 L404.0,35.0 L404.8,46.0 L406.0,40.0 L408.0,37.0 L410.0,42.0 L412.0,50.0 L414.0,58.0 L417.0,66.0 L421.0,74.0 L426.0,82.0 L430.0,90.0 L434.0,96.0 L438.0,100.0 L443.0,104.0 L450.0,108.0 L454.0,111.2" fill="none" stroke="#555" stroke-width="0.85" stroke-linejoin="round" stroke-dasharray="1.4 0.7"/>
<path d="M358.5,111.2 L363.0,109.5 L366.4,106.1 L368.7,102.7 L371.0,98.2 L372.1,92.5 L373.2,88.0 L374.4,81.2 L375.5,74.4 L376.6,67.6 L377.8,66.5 L378.9,64.2 L380.0,62.0 L381.1,56.3 L382.3,60.8 L383.4,63.1 L384.5,60.8 L385.7,58.6 L386.8,65.4 L387.9,74.4 L389.1,69.9 L390.2,60.8 L391.3,54.0 L392.5,49.5 L393.6,42.2 L394.1,36.1 L395.5,32.0 L396.5,25.0 L397.0,15.0 L399.0,3.0 L401.0,8.0 L402.0,10.0 L404.0,3.0 L405.0,15.0 L405.4,30.0 L405.0,42.0 L405.5,46.0 L407.1,40.0 L409.1,50.0 L411.2,66.0 L413.2,58.0 L415.2,68.0 L418.3,62.0 L419.3,70.0 L421.3,72.5 L424.3,78.5 L426.4,82.6 L428.4,81.6 L430.4,87.7 L433.5,88.7 L436.5,93.8 L440.6,97.8 L445.0,104.0 L448.0,106.0 L452.0,109.0 L455.0,111.2" fill="none" stroke="#000" stroke-width="1.1" stroke-linejoin="round"/>
<path d="M57.0,246.3 L60.0,236.0 L63.0,214.0 L66.0,190.0 L67.6,174.0 L70.0,154.0 L72.0,143.0 L73.5,138.4 L75.0,146.0 L75.9,154.0 L76.0,160.0 L77.7,170.1 L79.4,175.2 L80.3,178.6 L81.1,185.3 L82.0,193.8 L82.8,202.2 L83.6,198.9 L84.5,189.6 L85.3,188.7 L87.0,192.1 L88.7,193.8 L90.4,198.9 L92.1,198.0 L93.8,202.2 L95.5,210.0 L99.9,224.0 L105.8,236.0 L110.0,242.0 L113.8,246.3" fill="none" stroke="#c2c2c2" stroke-width="0.9" stroke-linejoin="round"/>
<path d="M83.9,246.3 L91.9,242.8 L96.9,232.0 L100.9,210.0 L104.1,194.0 L106.2,180.7 L108.2,164.4 L109.6,150.2 L110.8,142.1 L111.6,137.0 L112.2,140.1 L113.3,144.1 L114.3,142.1 L115.3,148.2 L116.3,154.3 L117.3,164.4 L118.3,172.5 L119.3,180.7 L121.4,188.8 L122.8,202.0 L125.8,214.0 L129.8,218.0 L133.0,221.0 L137.7,223.5 L140.0,224.5 L141.7,226.2 L143.4,227.0 L145.1,227.9 L146.8,229.6 L148.4,232.1 L150.1,235.5 L153.5,239.7 L156.9,242.2 L160.3,243.9 L163.6,244.8 L167.0,245.5 L170.0,246.3" fill="none" stroke="#555" stroke-width="0.85" stroke-linejoin="round" stroke-dasharray="1.4 0.7"/>
<path d="M88.9,246.3 L95.9,240.0 L100.9,230.0 L103.9,216.0 L107.8,210.0 L110.2,194.0 L112.2,178.6 L114.3,164.4 L115.3,154.3 L116.3,146.2 L117.3,142.1 L118.3,144.1 L119.3,142.1 L120.4,139.1 L121.4,137.6 L122.4,142.1 L123.4,150.2 L124.4,158.3 L125.4,164.4 L126.4,170.5 L127.5,174.6 L128.5,182.7 L129.8,188.8 L130.5,191.0 L132.0,194.0 L132.6,200.1 L133.6,207.2 L134.6,212.3 L136.1,215.3 L137.6,214.3 L139.1,211.3 L140.2,210.3 L141.7,215.2 L143.4,220.3 L144.2,216.0 L145.1,218.6 L145.9,222.8 L146.8,220.3 L147.6,221.1 L148.4,222.0 L149.3,220.3 L150.1,221.1 L151.8,222.0 L153.5,225.3 L155.2,227.0 L156.9,229.6 L158.6,227.9 L160.3,230.4 L161.1,235.5 L162.8,236.3 L165.3,235.5 L167.0,237.2 L168.7,238.0 L170.4,240.5 L172.9,240.5 L174.6,242.2 L176.3,246.3" fill="none" stroke="#000" stroke-width="1.1" stroke-linejoin="round"/>
<path d="M206.0,246.3 L208.0,236.0 L211.0,212.0 L215.0,192.0 L217.0,174.0 L219.5,154.0 L221.0,143.0 L221.9,138.4 L223.0,145.0 L224.3,154.0 L224.9,160.0 L226.6,170.1 L228.3,175.2 L230.0,178.6 L230.8,185.3 L231.6,193.8 L232.5,202.2 L233.3,197.2 L234.2,188.7 L235.0,190.4 L236.7,192.1 L238.4,195.5 L240.9,198.9 L242.6,200.5 L244.3,205.6 L245.2,210.0 L250.9,228.0 L255.8,236.0 L260.0,242.0 L263.8,246.3" fill="none" stroke="#c2c2c2" stroke-width="0.9" stroke-linejoin="round"/>
<path d="M234.9,246.3 L241.9,241.8 L245.9,232.0 L248.9,216.0 L251.9,202.0 L254.1,194.0 L257.2,174.6 L259.2,158.3 L260.2,148.2 L261.2,140.1 L261.6,137.0 L263.3,142.1 L264.3,140.1 L265.3,146.2 L266.3,154.3 L267.3,166.5 L269.3,178.6 L271.1,187.1 L273.2,197.8 L275.3,208.5 L277.5,212.7 L280.7,214.9 L282.8,219.1 L287.1,223.4 L291.3,226.6 L295.6,229.8 L299.9,234.0 L304.1,239.4 L308.4,242.6 L312.6,244.7 L316.9,246.3" fill="none" stroke="#555" stroke-width="0.85" stroke-linejoin="round" stroke-dasharray="1.4 0.7"/>
<path d="M240.9,246.3 L244.9,243.8 L249.9,234.0 L253.8,220.0 L257.8,208.0 L261.2,194.0 L263.3,174.6 L264.3,168.5 L265.3,164.4 L266.3,160.4 L267.3,154.3 L268.3,144.1 L269.3,140.1 L270.4,137.6 L271.4,142.1 L272.4,144.1 L273.4,148.2 L274.4,154.3 L275.4,162.4 L276.4,168.5 L277.5,170.5 L279.5,182.7 L280.5,194.0 L282.8,199.9 L283.9,204.2 L284.9,202.1 L286.0,208.5 L288.1,217.0 L291.3,221.2 L294.5,220.2 L295.6,219.1 L296.7,225.5 L299.9,227.6 L302.0,229.8 L304.1,228.7 L306.2,233.0 L310.5,237.2 L312.6,239.4 L315.8,241.5 L320.1,242.6 L324.4,243.6 L326.5,240.9 L328.6,244.7 L331.8,246.3" fill="none" stroke="#000" stroke-width="1.1" stroke-linejoin="round"/>
<path d="M354.6,246.3 L357.0,234.0 L360.0,212.0 L364.0,190.0 L366.6,174.0 L368.9,154.0 L370.0,144.0 L370.9,138.4 L372.0,144.0 L373.3,154.0 L373.9,160.0 L375.6,170.1 L378.1,178.6 L379.0,185.3 L379.8,193.8 L380.6,202.2 L381.5,195.5 L382.3,189.6 L384.0,190.4 L385.7,193.8 L388.3,196.3 L389.9,198.9 L391.6,202.2 L393.3,210.0 L396.9,220.0 L402.8,234.0 L408.8,242.0 L412.8,246.3" fill="none" stroke="#c2c2c2" stroke-width="0.9" stroke-linejoin="round"/>
<path d="M382.9,246.3 L389.9,242.8 L394.9,234.0 L397.9,220.0 L400.9,206.0 L403.1,194.0 L405.1,180.7 L407.2,164.4 L408.2,154.3 L409.2,144.1 L409.4,136.6 L410.2,140.1 L411.2,142.1 L412.2,141.1 L412.8,146.2 L413.7,150.2 L414.3,154.3 L415.3,160.4 L416.3,166.5 L417.3,174.6 L418.3,182.7 L419.5,188.0 L420.5,190.0 L422.0,200.3 L424.1,210.4 L426.1,214.5 L429.1,218.5 L432.2,216.5 L435.2,220.6 L437.2,222.6 L440.3,225.6 L443.3,224.6 L446.4,230.7 L449.4,234.8 L453.5,240.0 L457.0,243.0 L460.0,244.0 L464.7,246.3" fill="none" stroke="#555" stroke-width="0.85" stroke-linejoin="round" stroke-dasharray="1.4 0.7"/>
<path d="M387.9,246.3 L393.9,240.8 L397.9,228.0 L400.9,214.0 L402.8,204.0 L406.2,194.0 L407.2,188.8 L409.2,178.6 L411.2,172.5 L413.3,164.4 L414.3,158.3 L415.3,150.2 L416.3,142.1 L416.9,139.1 L417.7,146.2 L418.3,154.3 L418.9,150.2 L419.7,146.2 L420.4,144.1 L421.0,148.2 L421.8,154.3 L422.4,162.4 L423.4,168.5 L424.4,174.6 L425.4,180.7 L426.4,184.7 L427.5,188.8 L429.1,192.2 L431.2,196.2 L433.2,191.2 L434.2,202.3 L436.2,195.2 L438.3,202.3 L440.3,208.4 L443.3,205.4 L446.4,207.4 L449.4,213.5 L452.5,215.5 L455.5,211.4 L457.5,219.6 L459.6,217.5 L461.6,224.6 L464.6,228.7 L467.7,231.7 L469.7,233.8 L472.7,238.8 L474.6,240.0 L477.6,246.3" fill="none" stroke="#000" stroke-width="1.1" stroke-linejoin="round"/>
<text x="157.5" y="24.5" font-family="'Liberation Serif', serif" font-weight="bold" font-size="9.6" text-anchor="middle" fill="#000">GL261</text>
<text x="154.1" y="35.5" font-family="'Liberation Serif', serif" font-weight="bold" font-size="9.6" text-anchor="middle" fill="#000">+ Dex 0.1 µM</text>
<text x="310.3" y="24.9" font-family="'Liberation Serif', serif" font-weight="bold" font-size="9.6" text-anchor="middle" fill="#000">GL261</text>
<text x="306.5" y="35.5" font-family="'Liberation Serif', serif" font-weight="bold" font-size="9.6" text-anchor="middle" fill="#000">+ Dex 1 µM</text>
<text x="453.5" y="24.7" font-family="'Liberation Serif', serif" font-weight="bold" font-size="9.6" text-anchor="middle" fill="#000">GL261</text>
<text x="452.3" y="35.5" font-family="'Liberation Serif', serif" font-weight="bold" font-size="9.6" text-anchor="middle" fill="#000">+ Dex 10 µM</text>
<text x="157.9" y="160.5" font-family="'Liberation Serif', serif" font-weight="bold" font-size="9.6" text-anchor="middle" fill="#000">SMA560</text>
<text x="156.1" y="171.5" font-family="'Liberation Serif', serif" font-weight="bold" font-size="9.6" text-anchor="middle" fill="#000">+ Dex 0.1 µM</text>
<text x="310.3" y="160.5" font-family="'Liberation Serif', serif" font-weight="bold" font-size="9.6" text-anchor="middle" fill="#000">SMA560</text>
<text x="308.7" y="171.5" font-family="'Liberation Serif', serif" font-weight="bold" font-size="9.6" text-anchor="middle" fill="#000">+ Dex 1 µM</text>
<text x="457.7" y="160.5" font-family="'Liberation Serif', serif" font-weight="bold" font-size="9.6" text-anchor="middle" fill="#000">SMA560</text>
<text x="455.2" y="171.5" font-family="'Liberation Serif', serif" font-weight="bold" font-size="9.6" text-anchor="middle" fill="#000">+ Dex 10 µM</text>
<line x1="38.85" y1="6" x2="38.85" y2="276.7" stroke="#000" stroke-width="2.3"/>
<polygon points="35.6,7.3 42.1,7.3 38.85,1.4" fill="#000"/>
<line x1="37.7" y1="275.6" x2="480" y2="275.6" stroke="#000" stroke-width="2.2"/>
<polygon points="478.3,272.9 478.3,279.4 486.2,276.1" fill="#000"/>
<text x="0" y="0" transform="translate(35.0,127.0) rotate(-90)" font-family="'Liberation Serif', serif" font-weight="bold" font-size="12.6" text-anchor="middle">relative cell number</text>
<text x="182.6" y="291.8" font-family="'Liberation Serif', serif" font-weight="bold" font-size="12.6">FITC fluorescence (relative units)</text>
<text x="0" y="0" transform="translate(1.8,11.7) scale(0.97,1)" font-family="'Liberation Serif', serif" font-weight="bold" font-size="14.2">A</text>
<text x="0" y="0" transform="translate(2.2,150.4) scale(0.86,1)" font-family="'Liberation Serif', serif" font-weight="bold" font-size="14.0">B</text>
<text x="0" y="0" transform="translate(497.9,11.0) scale(1.0,1)" font-family="'Liberation Serif', serif" font-weight="bold" font-size="13.8">C</text>
<text x="0" y="0" transform="translate(498.2,146.0) scale(1.0,1)" font-family="'Liberation Serif', serif" font-weight="bold" font-size="13.5">D</text>
<line x1="532.5" y1="19.0" x2="532.5" y2="112.2" stroke="#999" stroke-width="1.1"/>
<line x1="532.5" y1="112.2" x2="676" y2="112.2" stroke="#ccc" stroke-width="0.7"/>
<line x1="530.5" y1="112.20" x2="532.5" y2="112.20" stroke="#555" stroke-width="0.8"/>
<text x="529.10" y="113.80" font-family="'Liberation Sans', sans-serif" font-weight="bold" font-size="4.5" text-anchor="end" fill="#222">0</text>
<line x1="530.5" y1="98.90" x2="532.5" y2="98.90" stroke="#555" stroke-width="0.8"/>
<text x="529.10" y="100.50" font-family="'Liberation Sans', sans-serif" font-weight="bold" font-size="4.5" text-anchor="end" fill="#222">20</text>
<line x1="530.5" y1="85.60" x2="532.5" y2="85.60" stroke="#555" stroke-width="0.8"/>
<text x="529.10" y="87.20" font-family="'Liberation Sans', sans-serif" font-weight="bold" font-size="4.5" text-anchor="end" fill="#222">40</text>
<line x1="530.5" y1="72.30" x2="532.5" y2="72.30" stroke="#555" stroke-width="0.8"/>
<text x="529.10" y="73.90" font-family="'Liberation Sans', sans-serif" font-weight="bold" font-size="4.5" text-anchor="end" fill="#222">60</text>
<line x1="530.5" y1="59.00" x2="532.5" y2="59.00" stroke="#555" stroke-width="0.8"/>
<text x="529.10" y="60.60" font-family="'Liberation Sans', sans-serif" font-weight="bold" font-size="4.5" text-anchor="end" fill="#222">80</text>
<line x1="530.5" y1="45.70" x2="532.5" y2="45.70" stroke="#555" stroke-width="0.8"/>
<text x="529.10" y="47.30" font-family="'Liberation Sans', sans-serif" font-weight="bold" font-size="4.5" text-anchor="end" fill="#222">100</text>
<line x1="530.5" y1="32.40" x2="532.5" y2="32.40" stroke="#555" stroke-width="0.8"/>
<text x="529.10" y="34.00" font-family="'Liberation Sans', sans-serif" font-weight="bold" font-size="4.5" text-anchor="end" fill="#222">120</text>
<line x1="530.5" y1="19.10" x2="532.5" y2="19.10" stroke="#555" stroke-width="0.8"/>
<text x="529.10" y="20.70" font-family="'Liberation Sans', sans-serif" font-weight="bold" font-size="4.5" text-anchor="end" fill="#222">140</text>
<rect x="542.7" y="45.97" width="16.7" height="66.23" fill="#000"/>
<text x="550.1" y="119.9" font-family="'Liberation Sans', sans-serif" font-weight="bold" font-size="5.1" text-anchor="middle" fill="#111">Control</text>
<rect x="579.1" y="30.67" width="16.8" height="81.53" fill="#000"/>
<line x1="587.50" y1="21.76" x2="587.50" y2="30.67" stroke="#888" stroke-width="0.8"/>
<line x1="586.50" y1="21.76" x2="588.50" y2="21.76" stroke="#888" stroke-width="0.8"/>
<text x="586.1" y="119.9" font-family="'Liberation Sans', sans-serif" font-weight="bold" font-size="5.1" text-anchor="middle" fill="#111">+ Dex 0.1 µM</text>
<rect x="615.6" y="29.87" width="16.5" height="82.33" fill="#000"/>
<line x1="623.85" y1="21.23" x2="623.85" y2="29.87" stroke="#888" stroke-width="0.8"/>
<line x1="622.85" y1="21.23" x2="624.85" y2="21.23" stroke="#888" stroke-width="0.8"/>
<text x="623.5" y="119.9" font-family="'Liberation Sans', sans-serif" font-weight="bold" font-size="5.1" text-anchor="middle" fill="#111">+ Dex 1 µM</text>
<rect x="651.7" y="37.05" width="16.6" height="75.15" fill="#000"/>
<line x1="660.00" y1="30.87" x2="660.00" y2="37.05" stroke="#888" stroke-width="0.8"/>
<line x1="659.00" y1="30.87" x2="661.00" y2="30.87" stroke="#888" stroke-width="0.8"/>
<text x="660.2" y="119.9" font-family="'Liberation Sans', sans-serif" font-weight="bold" font-size="5.1" text-anchor="middle" fill="#111">+ Dex 10 µM</text>
<text x="0" y="0" transform="translate(519.4,59.3) rotate(-90)" font-family="'Liberation Sans', sans-serif" font-weight="bold" font-size="5.0" text-anchor="middle" fill="#222">% of control</text>
<line x1="532.6" y1="154.9" x2="532.6" y2="247.3" stroke="#999" stroke-width="1.1"/>
<line x1="532.6" y1="247.3" x2="676" y2="247.3" stroke="#ccc" stroke-width="0.7"/>
<line x1="530.6" y1="247.30" x2="532.6" y2="247.30" stroke="#555" stroke-width="0.8"/>
<text x="529.20" y="248.90" font-family="'Liberation Sans', sans-serif" font-weight="bold" font-size="4.5" text-anchor="end" fill="#222">0</text>
<line x1="530.6" y1="236.40" x2="532.6" y2="236.40" stroke="#555" stroke-width="0.8"/>
<text x="529.20" y="238.00" font-family="'Liberation Sans', sans-serif" font-weight="bold" font-size="4.5" text-anchor="end" fill="#222">20</text>
<line x1="530.6" y1="225.50" x2="532.6" y2="225.50" stroke="#555" stroke-width="0.8"/>
<text x="529.20" y="227.10" font-family="'Liberation Sans', sans-serif" font-weight="bold" font-size="4.5" text-anchor="end" fill="#222">40</text>
<line x1="530.6" y1="214.60" x2="532.6" y2="214.60" stroke="#555" stroke-width="0.8"/>
<text x="529.20" y="216.20" font-family="'Liberation Sans', sans-serif" font-weight="bold" font-size="4.5" text-anchor="end" fill="#222">60</text>
<line x1="530.6" y1="203.70" x2="532.6" y2="203.70" stroke="#555" stroke-width="0.8"/>
<text x="529.20" y="205.30" font-family="'Liberation Sans', sans-serif" font-weight="bold" font-size="4.5" text-anchor="end" fill="#222">80</text>
<line x1="530.6" y1="192.80" x2="532.6" y2="192.80" stroke="#555" stroke-width="0.8"/>
<text x="529.20" y="194.40" font-family="'Liberation Sans', sans-serif" font-weight="bold" font-size="4.5" text-anchor="end" fill="#222">100</text>
<line x1="530.6" y1="181.90" x2="532.6" y2="181.90" stroke="#555" stroke-width="0.8"/>
<text x="529.20" y="183.50" font-family="'Liberation Sans', sans-serif" font-weight="bold" font-size="4.5" text-anchor="end" fill="#222">120</text>
<line x1="530.6" y1="171.00" x2="532.6" y2="171.00" stroke="#555" stroke-width="0.8"/>
<text x="529.20" y="172.60" font-family="'Liberation Sans', sans-serif" font-weight="bold" font-size="4.5" text-anchor="end" fill="#222">140</text>
<line x1="530.6" y1="160.10" x2="532.6" y2="160.10" stroke="#555" stroke-width="0.8"/>
<text x="529.20" y="161.70" font-family="'Liberation Sans', sans-serif" font-weight="bold" font-size="4.5" text-anchor="end" fill="#222">160</text>
<rect x="542.5" y="192.80" width="16.6" height="54.50" fill="#000"/>
<text x="548.9" y="255.9" font-family="'Liberation Sans', sans-serif" font-weight="bold" font-size="5.1" text-anchor="middle" fill="#111">Control</text>
<rect x="579.0" y="174.81" width="16.6" height="72.49" fill="#000"/>
<line x1="587.30" y1="167.19" x2="587.30" y2="174.81" stroke="#888" stroke-width="0.8"/>
<line x1="586.30" y1="167.19" x2="588.30" y2="167.19" stroke="#888" stroke-width="0.8"/>
<text x="584.9" y="255.9" font-family="'Liberation Sans', sans-serif" font-weight="bold" font-size="5.1" text-anchor="middle" fill="#111">+ Dex 0.1 µM</text>
<rect x="615.5" y="171.82" width="16.5" height="75.48" fill="#000"/>
<line x1="623.75" y1="164.84" x2="623.75" y2="171.82" stroke="#888" stroke-width="0.8"/>
<line x1="622.75" y1="164.84" x2="624.75" y2="164.84" stroke="#888" stroke-width="0.8"/>
<text x="622.3" y="255.9" font-family="'Liberation Sans', sans-serif" font-weight="bold" font-size="5.1" text-anchor="middle" fill="#111">+ Dex 1 µM</text>
<rect x="651.7" y="172.53" width="16.5" height="74.77" fill="#000"/>
<line x1="659.95" y1="159.23" x2="659.95" y2="172.53" stroke="#888" stroke-width="0.8"/>
<line x1="658.95" y1="159.23" x2="660.95" y2="159.23" stroke="#888" stroke-width="0.8"/>
<text x="659.0" y="255.9" font-family="'Liberation Sans', sans-serif" font-weight="bold" font-size="5.1" text-anchor="middle" fill="#111">+ Dex 10 µM</text>
<polygon points="587.30,152.85 588.01,154.63 589.92,154.75 588.44,155.97 588.92,157.82 587.30,156.80 585.68,157.82 586.16,155.97 584.68,154.75 586.59,154.63" fill="#111"/>
<polygon points="623.60,151.75 624.31,153.53 626.22,153.65 624.74,154.87 625.22,156.72 623.60,155.70 621.98,156.72 622.46,154.87 620.98,153.65 622.89,153.53" fill="#111"/>
<polygon points="660.20,151.75 660.91,153.53 662.82,153.65 661.34,154.87 661.82,156.72 660.20,155.70 658.58,156.72 659.06,154.87 657.58,153.65 659.49,153.53" fill="#111"/>
<text x="0" y="0" transform="translate(517.9,194.9) rotate(-90)" font-family="'Liberation Sans', sans-serif" font-weight="bold" font-size="5.0" text-anchor="middle" fill="#222">% of control</text>
</svg>
</body></html>
